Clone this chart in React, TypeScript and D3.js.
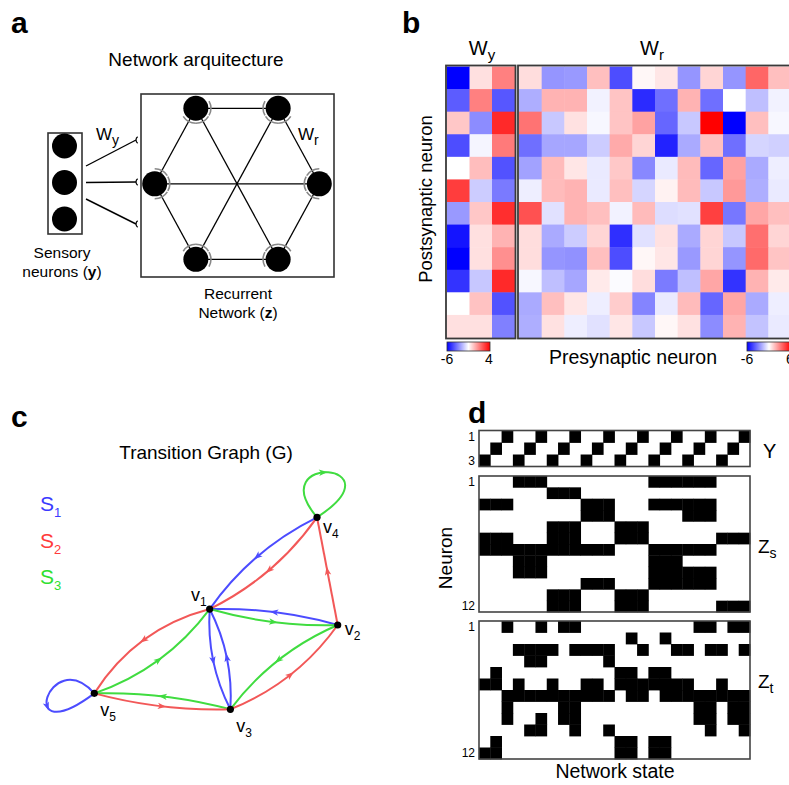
import React from "react";
import * as d3 from "d3";

const W = 789;
const H = 785;
const FONT = "'Liberation Sans', Arial, Helvetica, sans-serif";

// ---------- panel a : architecture ----------
const sensoryIds = ["y1", "y2", "y3"];
// recurrent units sit on a hexagon (angle in degrees)
const recurrentNodes = [
  { id: "R", angle: 0 },
  { id: "TR", angle: 60 },
  { id: "TL", angle: 120 },
  { id: "L", angle: 180 },
  { id: "BL", angle: 240 },
  { id: "BR", angle: 300 },
];
const recurrentEdges = [
  ["TL", "TR"], ["TR", "R"], ["R", "BR"], ["BR", "BL"], ["BL", "L"], ["L", "TL"],
  ["TL", "BR"], ["TR", "BL"], ["L", "R"],
];

// ---------- panel b : weights ----------
const wyValues = [
  [-6, -0.4, 1.5],
  [-4.2, 1.5, -4.3],
  [0.1, -3.25, 3.2],
  [-4.5, -1.2, 1.6],
  [-1, 0.3, -4.4],
  [2.8, -2, -3.6],
  [-3, 0.1, 3.1],
  [-5.6, -0.4, 0.5],
  [-6, -0.4, 1.2],
  [-5, -2.1, 3.2],
  [-1, 0.2, -4.4],
  [-0.4, -0.4, -3.5],
];
const wrValues = [
  [0.8, -2.5, -2.4, 1.5, -4.2, 0.2, 0.6, -2.5, 1, -2.5, 3.6, 1.5],
  [-1.9, 1.8, 1.8, -0.3, 1.4, -5, -3.4, 1.8, -3.4, 0, -1.5, -0.3],
  [3.3, -1.3, 0.7, -0.2, 1.4, 2.2, -3.6, -1.3, 6, -6, 1.5, -0.2],
  [-3.4, -2.1, -2.1, -1.2, 2, 1, -5.2, -2, 1.5, -3.4, -1, -1.1],
  [-2.2, 1.6, 0.6, -0.5, 1.3, -2.8, -0.5, 1.6, -3.6, 2.2, -2, -0.4],
  [-0.4, 1.6, 1.8, -0.5, 1.5, -1, 0.3, 1.6, -1.3, 2.4, -1.9, -0.5],
  [4.1, -0.7, 1.8, 1.5, -0.3, 1.6, -0.8, -0.7, 4.5, -3.2, 2.1, 1.5],
  [0.8, -2, -1.2, 1, -4.9, -0.7, 0.7, -2, 1, -1.3, 3.4, 1],
  [0.8, -2.5, -2.6, 1.5, -4.2, 0.2, 0.6, -2.4, 1, -2.5, 3.5, 1.4],
  [-0.2, -1.5, -2.1, 0.5, -0.1, 0.8, -3.1, -1.5, 2.1, -4.8, 1.8, 0.5],
  [-2, 1.5, 0.6, -0.4, 1.2, -2.9, -0.5, 1.6, -3.6, 2.1, -2, -0.4],
  [-1.9, 0.7, -0.4, -0.7, 0.6, -1.3, 0.2, 0.7, -2.7, 1.8, -1.4, -0.5],
];
const wyRange = [-6, 4];
const wrRange = [-6, 6];

// ---------- panel c : transition graph ----------
const graphNodes = [
  { id: "v1", x: 47.4, y: 47.8, label: "nw" },
  { id: "v2", x: 100, y: 56.1, label: "e" },
  { id: "v3", x: 55.9, y: 100, label: "s" },
  { id: "v4", x: 91.5, y: 0, label: "se" },
  { id: "v5", x: 0, y: 91.7, label: "s" },
];
const stimuli = ["S1", "S2", "S3"];
const transitions = [
  { from: "v4", to: "v1", s: "S1", bend: 9 },
  { from: "v4", to: "v1", s: "S2", bend: -9 },
  { from: "v2", to: "v4", s: "S2", bend: 0 },
  { from: "v2", to: "v1", s: "S1", bend: 5 },
  { from: "v1", to: "v2", s: "S3", bend: 5 },
  { from: "v1", to: "v5", s: "S2", bend: 14 },
  { from: "v5", to: "v1", s: "S3", bend: 11 },
  { from: "v1", to: "v3", s: "S1", bend: 7 },
  { from: "v3", to: "v1", s: "S1", bend: 7 },
  { from: "v2", to: "v3", s: "S3", bend: 9 },
  { from: "v3", to: "v2", s: "S2", bend: 10 },
  { from: "v3", to: "v5", s: "S3", bend: 5 },
  { from: "v5", to: "v3", s: "S2", bend: 5 },
];
const selfLoops = [
  { node: "v4", s: "S3", side: "up" },
  { node: "v5", s: "S1", side: "left" },
];

// ---------- panel d : network states ----------
const yRaster = [
  "001001001001001001001001",
  "010010010010010010010010",
  "100100100100100100100100",
];
const zsRaster = [
  "000111000000000111111000",
  "000000111000000000000000",
  "111000000111000111111000",
  "000000000111000000111000",
  "000000111000111000000000",
  "111000111000111000000111",
  "111111111111000111111000",
  "000111000000000111000000",
  "000111000000000111111000",
  "000000000111000111111000",
  "000000111000111000000000",
  "000000111000111000000111",
];
const ztRaster = [
  "001001011000000000011011",
  "000000000000010010000000",
  "000111101111001001101101",
  "000011000001000000000000",
  "010000000000110110000000",
  "110100100110111111100100",
  "001111111111011011111111",
  "001000011000000000011011",
  "001001011000000000011011",
  "000011001001000000001001",
  "010000000000110110000000",
  "110000000000110110000000",
];

const stimColor: Record<string, string> = { S1: "#4c4cff", S2: "#f25858", S3: "#40dc40" };
const stimText: Record<string, string> = { S1: "#3a3aff", S2: "#ff3a3a", S3: "#2fe02f" };

function PanelLabel({ x, y, t }: { x: number; y: number; t: string }) {
  return (
    <text x={x} y={y} fontSize={30} fontWeight="bold">
      {t}
    </text>
  );
}

function PanelA() {
  const hx = d3.scaleLinear().domain([-1, 1]).range([154.7, 319.3]);
  const hy = d3.scaleLinear().domain([-1, 1]).range([96.6, 271]);
  const pos = new Map(
    recurrentNodes.map((n) => {
      const a = (n.angle * Math.PI) / 180;
      return [n.id, { x: hx(Math.cos(a)), y: hy(-Math.sin(a)) }];
    })
  );
  const r = 12.5;
  const sy = d3.scalePoint<string>().domain(sensoryIds).range([146, 219]);
  const synStart = d3.scalePoint<string>().domain(sensoryIds).range([166, 199]);
  const synEnd = d3.scalePoint<string>().domain(sensoryIds).range([140, 224]);

  const cap = (a: { x: number; y: number }, b: { x: number; y: number }) => {
    const th = Math.atan2(b.y - a.y, b.x - a.x);
    const p = d3.path();
    p.arc(a.x, a.y, r + 2.5, th - 0.5, th + 0.5);
    return p.toString();
  };

  return (
    <g>
      <PanelLabel x={11} y={33} t="a" />
      <text x={196} y={66} fontSize={19} textAnchor="middle">Network arquitecture</text>
      {/* sensory block */}
      <rect x={48} y={133} width={34} height={101} fill="none" stroke="#333" strokeWidth={1.6} />
      {sensoryIds.map((id) => (
        <circle key={id} cx={64.5} cy={sy(id)} r={12.5} fill="black" />
      ))}
      {sensoryIds.map((id) => {
        const ey = synEnd(id)!;
        const p = d3.path();
        p.arc(136 + 4, ey, 4, Math.PI * 0.7, Math.PI * 1.3);
        return (
          <g key={id}>
            <line x1={86} y1={synStart(id)} x2={136} y2={ey} stroke="black" strokeWidth={1.4} />
            <path d={p.toString()} fill="none" stroke="black" strokeWidth={1.2} />
          </g>
        );
      })}
      <text x={96} y={140} fontSize={17}>
        W<tspan dy={5} fontSize={14}>y</tspan>
      </text>
      {/* recurrent block */}
      <rect x={141} y={94} width={193} height={183} fill="none" stroke="#333" strokeWidth={1.6} />
      {recurrentEdges.map(([a, b]) => {
        const pa = pos.get(a)!;
        const pb = pos.get(b)!;
        return (
          <g key={a + b}>
            <line x1={pa.x} y1={pa.y} x2={pb.x} y2={pb.y} stroke="black" strokeWidth={1.3} />
            <path d={cap(pa, pb)} fill="none" stroke="#888" strokeWidth={1.6} />
            <path d={cap(pb, pa)} fill="none" stroke="#888" strokeWidth={1.6} />
          </g>
        );
      })}
      {recurrentNodes.map((n) => (
        <circle key={n.id} cx={pos.get(n.id)!.x} cy={pos.get(n.id)!.y} r={r} fill="black" />
      ))}
      <text x={298} y={140} fontSize={17}>
        W<tspan dy={5} fontSize={14}>r</tspan>
      </text>
      <text x={62} y={258} fontSize={15.5} textAnchor="middle">Sensory</text>
      <text x={62} y={277} fontSize={15.5} textAnchor="middle">
        neurons (<tspan fontWeight="bold">y</tspan>)
      </text>
      <text x={238} y={299} fontSize={15.5} textAnchor="middle">Recurrent</text>
      <text x={238} y={318} fontSize={15.5} textAnchor="middle">
        Network (<tspan fontWeight="bold">z</tspan>)
      </text>
    </g>
  );
}

function PanelB() {
  const rowsY = d3.scaleBand<number>().domain(d3.range(12)).range([66.5, 337.5]);
  const wyX = d3.scaleBand<number>().domain(d3.range(3)).range([447, 514.5]);
  const wrX = d3.scaleBand<number>().domain(d3.range(12)).range([519, 791]);
  const cWy = d3.scaleLinear<string>().domain([wyRange[0], (wyRange[0] + wyRange[1]) / 2, wyRange[1]]).range(["#0000ff", "#ffffff", "#ff0000"]);
  const cWr = d3.scaleLinear<string>().domain([wrRange[0], 0, wrRange[1]]).range(["#0000ff", "#ffffff", "#ff0000"]);
  const cbY = 342;
  return (
    <g>
      <PanelLabel x={402} y={33} t="b" />
      <defs>
        <linearGradient id="bwr" x1="0" x2="1" y1="0" y2="0">
          <stop offset="0%" stopColor="#0000ff" />
          <stop offset="50%" stopColor="#ffffff" />
          <stop offset="100%" stopColor="#ff0000" />
        </linearGradient>
      </defs>
      {wyValues.map((row, i) =>
        row.map((v, j) => (
          <rect key={`wy${i}-${j}`} x={wyX(j)} y={rowsY(i)} width={wyX.bandwidth() + 0.5} height={rowsY.bandwidth() + 0.5} fill={cWy(v)} />
        ))
      )}
      {wrValues.map((row, i) =>
        row.map((v, j) => (
          <rect key={`wr${i}-${j}`} x={wrX(j)} y={rowsY(i)} width={wrX.bandwidth() + 0.5} height={rowsY.bandwidth() + 0.5} fill={cWr(v)} />
        ))
      )}
      <rect x={446} y={65.5} width={69.5} height={273} fill="none" stroke="#3a3a3a" strokeWidth={1.8} />
      <rect x={518} y={65.5} width={274} height={273} fill="none" stroke="#3a3a3a" strokeWidth={1.8} />
      <text x={482} y={55} fontSize={20} textAnchor="middle">
        W<tspan dy={5} fontSize={15}>y</tspan>
      </text>
      <text x={652} y={55} fontSize={20} textAnchor="middle">
        W<tspan dy={5} fontSize={15}>r</tspan>
      </text>
      <text transform="translate(432,199) rotate(-90)" fontSize={18.5} textAnchor="middle">Postsynaptic neuron</text>
      <rect x={447} y={cbY} width={43} height={9} fill="url(#bwr)" stroke="#333" strokeWidth={0.8} />
      <text x={447} y={364} fontSize={14} textAnchor="middle">{wyRange[0]}</text>
      <text x={489} y={364} fontSize={14} textAnchor="middle">{wyRange[1]}</text>
      <rect x={747} y={cbY} width={44} height={9} fill="url(#bwr)" stroke="#333" strokeWidth={0.8} />
      <text x={747} y={364} fontSize={14} textAnchor="middle">{wrRange[0]}</text>
      <text x={790} y={364} fontSize={14} textAnchor="middle">{wrRange[1]}</text>
      <text x={633} y={364} fontSize={19.5} textAnchor="middle">Presynaptic neuron</text>
    </g>
  );
}

const arrowHead = "M4.5,0 L-4,-3.2 L-1.8,0 L-4,3.2 Z";

function PanelC() {
  const gx = d3.scaleLinear().domain([0, 100]).range([94.3, 337.7]);
  const gy = d3.scaleLinear().domain([0, 100]).range([517.3, 709.3]);
  const P = new Map(graphNodes.map((n) => [n.id, { x: gx(n.x), y: gy(n.y) }]));
  const legendY = d3.scalePoint<string>().domain(stimuli).range([511, 584]);

  const labelOffset: Record<string, [number, number, string]> = {
    nw: [-3, -8, "end"],
    e: [7, 10, "start"],
    se: [6, 16, "start"],
    s: [6, 23, "start"],
  };

  return (
    <g>
      <PanelLabel x={11} y={427} t="c" />
      <text x={206} y={459} fontSize={19} textAnchor="middle">Transition Graph (G)</text>
      {stimuli.map((s, i) => (
        <text key={s} x={40} y={legendY(s)} fontSize={21} fill={stimText[s]}>
          S<tspan dy={6} fontSize={13}>{i + 1}</tspan>
        </text>
      ))}
      {transitions.map((e, k) => {
        const a = P.get(e.from)!;
        const b = P.get(e.to)!;
        const dx = b.x - a.x;
        const dy = b.y - a.y;
        const len = Math.hypot(dx, dy);
        const nx = -dy / len;
        const ny = dx / len;
        const cx = (a.x + b.x) / 2 + nx * 2 * e.bend;
        const cy = (a.y + b.y) / 2 + ny * 2 * e.bend;
        const p = d3.path();
        p.moveTo(a.x, a.y);
        p.quadraticCurveTo(cx, cy, b.x, b.y);
        const mx = 0.25 * a.x + 0.5 * cx + 0.25 * b.x;
        const my = 0.25 * a.y + 0.5 * cy + 0.25 * b.y;
        const ang = (Math.atan2(dy, dx) * 180) / Math.PI;
        return (
          <g key={k}>
            <path d={p.toString()} fill="none" stroke={stimColor[e.s]} strokeWidth={2} />
            <path d={arrowHead} transform={`translate(${mx},${my}) rotate(${ang})`} fill={stimColor[e.s]} />
          </g>
        );
      })}
      {selfLoops.map((l) => {
        const o = P.get(l.node)!;
        const c1 = l.side === "up" ? [-55, -65] : [-45, -50];
        const c2 = l.side === "up" ? [85, -55] : [-80, 60];
        const t = l.side === "up" ? 0.45 : 0.62;
        const p = d3.path();
        p.moveTo(o.x, o.y);
        p.bezierCurveTo(o.x + c1[0], o.y + c1[1], o.x + c2[0], o.y + c2[1], o.x, o.y);
        const u = 1 - t;
        const bx = 3 * u * u * t * c1[0] + 3 * u * t * t * c2[0];
        const by = 3 * u * u * t * c1[1] + 3 * u * t * t * c2[1];
        const tx = 3 * u * u * c1[0] + 6 * u * t * (c2[0] - c1[0]) - 3 * t * t * c2[0];
        const ty = 3 * u * u * c1[1] + 6 * u * t * (c2[1] - c1[1]) - 3 * t * t * c2[1];
        const ang = (Math.atan2(ty, tx) * 180) / Math.PI;
        return (
          <g key={l.node}>
            <path d={p.toString()} fill="none" stroke={stimColor[l.s]} strokeWidth={2} />
            <path d={arrowHead} transform={`translate(${o.x + bx},${o.y + by}) rotate(${ang})`} fill={stimColor[l.s]} />
          </g>
        );
      })}
      {graphNodes.map((n) => {
        const p = P.get(n.id)!;
        const [ox, oy, anchor] = labelOffset[n.label];
        return (
          <g key={n.id}>
            <circle cx={p.x} cy={p.y} r={3.6} fill="black" />
            <text x={p.x + ox} y={p.y + oy} fontSize={18} textAnchor={anchor}>
              v<tspan dy={5} fontSize={12}>{n.id.slice(1)}</tspan>
            </text>
          </g>
        );
      })}
    </g>
  );
}

function Raster({ rows, y0, y1 }: { rows: string[]; y0: number; y1: number }) {
  const nCols = rows[0].length;
  const x = d3.scaleBand<number>().domain(d3.range(nCols)).range([479, 750]);
  const y = d3.scaleBand<number>().domain(d3.range(rows.length)).range([y0, y1]);
  return (
    <g>
      {rows.map((row, i) =>
        row.split("").map((c, j) =>
          c === "1" ? (
            <rect key={`${i}-${j}`} x={x(j)} y={y(i)} width={x.bandwidth() + 0.4} height={y.bandwidth() + 0.4} fill="black" />
          ) : null
        )
      )}
      <rect x={479} y={y0} width={271} height={y1 - y0} fill="none" stroke="#444" strokeWidth={1.6} />
      <text x={475} y={y(0)! + y.bandwidth() / 2 + 4} fontSize={12} textAnchor="end">1</text>
      <text x={475} y={y(rows.length - 1)! + y.bandwidth() / 2 + 4} fontSize={12} textAnchor="end">{rows.length}</text>
    </g>
  );
}

function PanelD() {
  return (
    <g>
      <PanelLabel x={468} y={423} t="d" />
      <Raster rows={yRaster} y0={430.5} y1={466.5} />
      <Raster rows={zsRaster} y0={476} y1={612} />
      <Raster rows={ztRaster} y0={621} y1={759} />
      <text x={763} y={458} fontSize={20}>Y</text>
      <text x={758} y={553} fontSize={19}>
        Z<tspan dy={5} fontSize={14}>s</tspan>
      </text>
      <text x={758} y={688} fontSize={19}>
        Z<tspan dy={5} fontSize={14}>t</tspan>
      </text>
      <text transform="translate(452,558) rotate(-90)" fontSize={19} textAnchor="middle">Neuron</text>
      <text x={615} y={778} fontSize={19.5} textAnchor="middle">Network state</text>
    </g>
  );
}

export default function App() {
  return (
    <svg width={W} height={H} style={{ position: "absolute", left: 0, top: 0 }} fontFamily={FONT}>
      <rect width={W} height={H} fill="white" />
      <PanelA />
      <PanelB />
      <PanelC />
      <PanelD />
    </svg>
  );
}
